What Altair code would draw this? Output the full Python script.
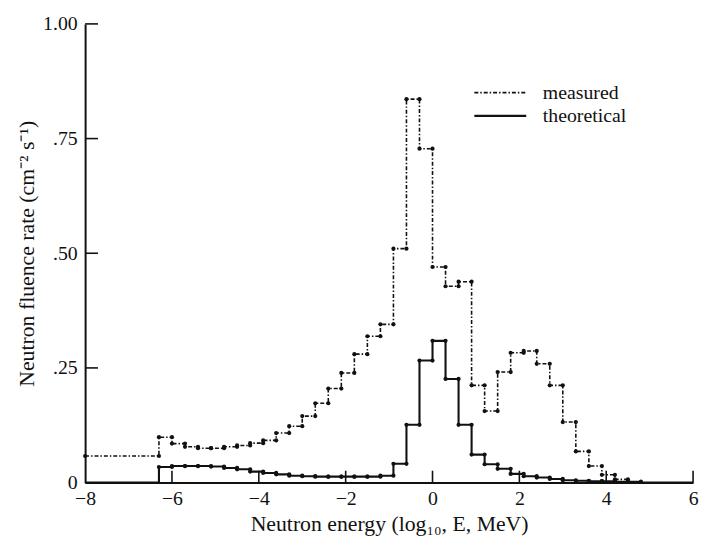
import altair as alt
import pandas as pd

# Bin edges (log10 E, MeV): bins of ~0.3 decade
edges = [-6.3, -6.0, -5.7, -5.4, -5.1, -4.8, -4.5, -4.2, -3.9, -3.6, -3.3,
         -3.0, -2.7, -2.4, -2.1, -1.8, -1.5, -1.2, -0.9, -0.6, -0.3, 0.0,
         0.3, 0.6, 0.9, 1.2, 1.5, 1.8, 2.1, 2.4, 2.7, 3.0, 3.3, 3.6, 3.9,
         4.2, 4.5, 4.8]

# Measured fluence rate per bin (first 36 bins)
measured = [0.099, 0.085, 0.078, 0.075, 0.075, 0.078, 0.081, 0.086, 0.092,
            0.108, 0.123, 0.145, 0.173, 0.205, 0.239, 0.280, 0.319, 0.345,
            0.510, 0.836, 0.728, 0.470, 0.428, 0.438, 0.212, 0.156, 0.241,
            0.283, 0.287, 0.259, 0.212, 0.132, 0.068, 0.036, 0.017, 0.007]
measured_below = 0.058  # measured level from -8 up to the first edge

# Theoretical fluence rate per bin (37 bins)
theoretical = [0.034, 0.036, 0.036, 0.036, 0.035, 0.032, 0.029, 0.024, 0.021,
               0.018, 0.015, 0.014, 0.013, 0.013, 0.013, 0.013, 0.013, 0.015,
               0.041, 0.126, 0.266, 0.309, 0.226, 0.126, 0.061, 0.040, 0.030,
               0.019, 0.014, 0.011, 0.008, 0.005, 0.004, 0.003, 0.003, 0.002,
               0.002]

x_ticks = [-8, -6, -4, -2, 0, 2, 4, 6]
y_ticks = [0, 0.25, 0.5, 0.75, 1.0]
series_names = ["measured", "theoretical"]
x_domain = [-8, 6]
y_domain = [0, 1]

FONT = "Liberation Serif"
INK = "#111111"
W, H = 615, 464

# ---- step-line tables ----
rows = [{"x": x_domain[0], "y": measured_below, "series": "measured"}]
for i, v in enumerate(measured):
    rows.append({"x": edges[i], "y": v, "series": "measured"})
rows.append({"x": edges[len(measured)], "y": 0.0, "series": "measured"})

rows.append({"x": x_domain[0], "y": 0.0, "series": "theoretical"})
for i, v in enumerate(theoretical):
    rows.append({"x": edges[i], "y": v, "series": "theoretical"})
rows.append({"x": edges[len(theoretical)], "y": 0.0, "series": "theoretical"})
rows.append({"x": x_domain[1], "y": 0.0, "series": "theoretical"})
steps = pd.DataFrame(rows)

# ---- dots at both ends of every horizontal step ----
dots = [{"x": x_domain[0], "y": measured_below}, {"x": edges[0], "y": measured_below}]
for i, v in enumerate(measured):
    dots += [{"x": edges[i], "y": v}, {"x": edges[i + 1], "y": v}]
for i, v in enumerate(theoretical):
    dots += [{"x": edges[i], "y": v}, {"x": edges[i + 1], "y": v}]
dots = pd.DataFrame(dots)

x_axis = alt.Axis(values=x_ticks, ticks=False, grid=False, format="d",
                  domainColor=INK, domainWidth=2, labelFlush=False,
                  labelFont=FONT, labelFontSize=20, labelColor=INK, labelPadding=6,
                  title="Neutron energy (log\u2081\u2080, E, MeV)", titleFont=FONT,
                  titleFontSize=22, titleFontWeight="normal", titleColor=INK,
                  titlePadding=5)
y_axis = alt.Axis(values=y_ticks, ticks=False, grid=False, domainColor=INK,
                  domainWidth=2, labelFlush=False,
                  labelExpr="datum.value == 0 ? '0' : datum.value >= 1 ? '1.00' : '.' + format(datum.value * 100, '02d')",
                  labelFont=FONT, labelFontSize=20, labelColor=INK, labelPadding=8,
                  title="Neutron fluence rate (cm\u207b\u00b2 s\u207b\u00b9)", titleFont=FONT,
                  titleFontSize=22, titleFontWeight="normal", titleColor=INK,
                  titlePadding=4)

def X(field="x"):
    return alt.X(f"{field}:Q", scale=alt.Scale(domain=x_domain, nice=False, zero=False), axis=x_axis)

def Y(field="y"):
    return alt.Y(f"{field}:Q", scale=alt.Scale(domain=y_domain, nice=False), axis=y_axis)

lines = alt.Chart(steps).mark_line(interpolate="step-after", color=INK).encode(
    x=X(), y=Y(),
    strokeDash=alt.StrokeDash(
        "series:N",
        scale=alt.Scale(domain=series_names, range=[[4, 2, 1.5, 2], [1, 0]]),
        legend=alt.Legend(title=None, orient="none", legendX=408, legendY=58,
                          symbolType="M-2.5,0H2.5", symbolSize=441,
                          symbolStrokeWidth=1.6, symbolStrokeColor=INK,
                          labelFont=FONT, labelFontSize=20, labelColor=INK,
                          labelOffset=31, rowPadding=1, padding=0)),
    strokeWidth=alt.StrokeWidth("series:N",
                                scale=alt.Scale(domain=series_names, range=[1.6, 2.1]),
                                legend=None),
)

points = alt.Chart(dots).mark_circle(size=18, color=INK, opacity=1).encode(x=X(), y=Y())

xt = alt.Chart(pd.DataFrame({"x": x_ticks[1:]})).mark_rule(color=INK, strokeWidth=1.6).encode(
    x=X(), y=alt.value(H - 12), y2=alt.value(H))
yt = alt.Chart(pd.DataFrame({"y": y_ticks[1:]})).mark_rule(color=INK, strokeWidth=1.6).encode(
    y=Y(), x=alt.value(0), x2=alt.value(13))

chart = alt.layer(lines, points, xt, yt).properties(
    width=W, height=H,
    autosize=alt.AutoSizeParams(type="none"),
    padding={"left": 78, "top": 13, "right": 6, "bottom": 57},
    background="white",
).configure_view(stroke=None)

chart.save("out.html", embed_options={"renderer": "svg", "actions": False})
